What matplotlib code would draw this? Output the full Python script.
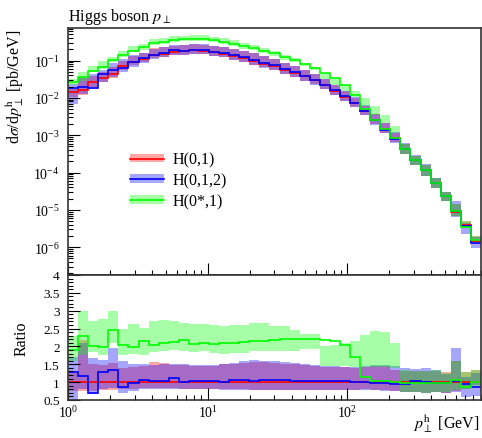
import numpy as np
import matplotlib
matplotlib.use('Agg')
import matplotlib.pyplot as plt
from matplotlib.patches import Patch
from matplotlib.lines import Line2D
from matplotlib.ticker import LogLocator, MultipleLocator, NullFormatter

plt.rcParams['font.family'] = ['Liberation Serif', 'DejaVu Serif']
plt.rcParams['mathtext.fontset'] = 'stix'

# ---------------- data ----------------
bin_edges = np.geomspace(1.0, 906.0, 42)

# H(0,1) central values [pb/GeV]
red = [0.0140, 0.0162, 0.0260, 0.0339, 0.0427, 0.0705, 0.0918, 0.1086, 0.1406, 0.151,
       0.1667, 0.1758, 0.1858, 0.184, 0.168, 0.1538, 0.1324, 0.1148, 0.0989, 0.0828,
       0.0711, 0.0557, 0.0474, 0.0374, 0.0294, 0.0218, 0.01567, 0.01081, 0.00724, 0.00433,
       0.00251, 0.001466, 0.000841, 0.000439, 0.000219, 0.000119, 5.35e-5, 2.40e-5, 9.04e-6, 3.98e-6,
       1.51e-6]

# ratios to H(0,1)
blue_ratio = [1.28, 1.18, 0.70, 1.29, 1.34, 0.87, 0.97, 1.07, 1.02, 1.04,
              1.13, 1.01, 1.04, 1.02, 1.02, 1.01, 1.07, 1.06, 1.04, 1.05,
              1.05, 1.05, 1.04, 1.04, 1.03, 1.02, 1.02, 1.02, 1.00, 1.00,
              0.99, 0.97, 0.95, 0.95, 1.02, 1.01, 0.99, 0.97, 1.02, 0.95,
              0.86]
green_ratio = [1.90, 2.30, 2.02, 1.98, 2.45, 2.05, 1.98, 2.16, 2.05, 2.10,
               2.13, 2.19, 2.07, 2.09, 2.08, 2.09, 2.11, 2.12, 2.14, 2.14,
               2.18, 2.20, 2.21, 2.21, 2.21, 2.18, 2.14, 2.05, 1.70, 1.155,
               1.04, 1.02, 1.00, 0.98, 0.98, 0.99, 0.99, 0.97, 1.06, 0.87,
               1.01]

# uncertainty bands, as ratio to H(0,1) central value
red_lo = [0.75, 0.75, 0.76, 0.78, 0.78, 0.80, 0.82, 0.84, 0.84, 0.84,
          0.83, 0.82, 0.82, 0.82, 0.81, 0.80, 0.80, 0.80, 0.79, 0.79,
          0.79, 0.79, 0.78, 0.78, 0.78, 0.78, 0.78, 0.78, 0.79, 0.80,
          0.78, 0.78, 0.76, 0.72, 0.72, 0.70, 0.72, 0.70, 0.76, 0.80,
          0.92]
red_hi = [1.25, 2.17, 1.50, 1.48, 1.55, 1.40, 1.42, 1.45, 1.57, 1.55,
          1.48, 1.48, 1.46, 1.44, 1.46, 1.50, 1.50, 1.53, 1.57, 1.56,
          1.53, 1.52, 1.50, 1.48, 1.46, 1.43, 1.42, 1.42, 1.40, 1.43,
          1.46, 1.46, 1.34, 1.30, 1.30, 1.30, 1.32, 1.28, 1.60, 1.28,
          1.34]
blue_lo = [0.50, 0.80, 0.68, 0.80, 0.85, 0.70, 0.74, 0.80, 0.80, 0.81,
           0.82, 0.80, 0.80, 0.80, 0.80, 0.79, 0.79, 0.79, 0.78, 0.78,
           0.78, 0.78, 0.78, 0.78, 0.77, 0.77, 0.77, 0.77, 0.78, 0.78,
           0.77, 0.76, 0.74, 0.72, 0.72, 0.69, 0.72, 0.70, 0.72, 0.58,
           0.62]
blue_hi = [1.70, 2.10, 1.68, 1.62, 1.95, 1.58, 1.52, 1.50, 1.48, 1.50,
           1.52, 1.50, 1.49, 1.48, 1.49, 1.52, 1.53, 1.58, 1.62, 1.60,
           1.58, 1.56, 1.53, 1.50, 1.48, 1.45, 1.44, 1.43, 1.43, 1.46,
           1.48, 1.47, 1.46, 1.40, 1.37, 1.40, 1.34, 1.24, 1.96, 1.14,
           1.25]
green_lo = [1.60, 1.75, 1.85, 1.75, 2.10, 1.75, 1.80, 1.75, 1.85, 1.87,
            1.90, 1.88, 1.85, 1.86, 1.82, 1.80, 1.82, 1.82, 1.88, 1.88,
            1.88, 1.88, 1.88, 1.92, 1.92, 1.45, 1.45, 1.45, 1.42, 1.42,
            1.42, 1.42, 1.40, 0.72, 0.72, 0.70, 0.72, 0.72, 0.78, 0.82,
            0.90]
green_hi = [2.30, 3.00, 2.72, 2.78, 3.00, 2.50, 2.62, 2.52, 2.70, 2.73,
            2.72, 2.66, 2.63, 2.63, 2.60, 2.58, 2.60, 2.60, 2.65, 2.65,
            2.58, 2.58, 2.45, 2.35, 2.35, 2.00, 2.05, 2.10, 2.14, 2.33,
            2.44, 2.40, 2.09, 1.34, 1.30, 1.30, 1.35, 1.25, 1.60, 1.28,
            1.34]

ratio_ticks = [0.5, 1, 1.5, 2, 2.5, 3, 3.5, 4]
ratio_ticklabels = ['0.5', '1', '1.5', '2', '2.5', '3', '3.5', '4']

labels = ['H(0,1)', 'H(0,1,2)', 'H(0*,1)']
colors = ['#ff0000', '#0000ff', '#00ff00']

# ---------------- figure ----------------
ref = np.array(red)
ratios = [np.ones_like(ref), np.array(blue_ratio), np.array(green_ratio)]
los = [np.array(red_lo), np.array(blue_lo), np.array(green_lo)]
his = [np.array(red_hi), np.array(blue_hi), np.array(green_hi)]

fig = plt.figure(figsize=(4.82, 4.39), dpi=100)
L, R = 68 / 482, 481 / 482
ax = fig.add_axes([L, 1 - 276 / 439, R - L, (276 - 29) / 439])
axr = fig.add_axes([L, 1 - 401 / 439, R - L, (401 - 276) / 439])

alpha = 0.35
lw = 1.2
for c, r, lo, hi in zip(colors, ratios, los, his):
    ax.stairs(ref * hi, bin_edges, baseline=ref * lo, fill=True, color=c, alpha=alpha, lw=0)
    axr.stairs(hi, bin_edges, baseline=lo, fill=True, color=c, alpha=alpha, lw=0)
for c, r in zip(colors, ratios):
    ax.stairs(ref * r, bin_edges, color=c, lw=lw, baseline=None)
    axr.stairs(r, bin_edges, color=c, lw=lw, baseline=None)

for a in (ax, axr):
    a.set_xscale('log')
    a.set_xlim(bin_edges[0], bin_edges[-1])
    for s in a.spines.values():
        s.set_linewidth(1.2)
        s.set_color('#333333')
    a.tick_params(which='both', direction='in', top=False, right=False, width=0.8, color='black')
    a.tick_params(which='major', length=8.5)
    a.tick_params(which='minor', length=3.8)
    a.tick_params(axis='y', which='major', pad=6, labelsize=10)
    a.tick_params(axis='x', which='major', pad=3, labelsize=10)

ax.set_yscale('log')
ax.set_ylim(10 ** -6.743, 10 ** -0.129)
ax.yaxis.set_major_locator(LogLocator(base=10, numticks=20))
ax.yaxis.set_minor_locator(LogLocator(base=10, subs=np.arange(2, 10), numticks=20))
ax.yaxis.set_minor_formatter(NullFormatter())
ax.tick_params(axis='x', which='both', labelbottom=False)

axr.set_ylim(0.5, 4.0)
axr.set_yticks(ratio_ticks)
axr.set_yticklabels(ratio_ticklabels)
axr.yaxis.set_minor_locator(MultipleLocator(0.1))
axr.tick_params(axis='y', which='major', labelsize=9.5)

# legend
handles = [(Patch(facecolor=c, alpha=alpha, lw=0), Line2D([], [], color=c, lw=lw)) for c in colors]
ax.legend(handles, labels, loc='upper left', bbox_to_anchor=(0.150, 0.50), frameon=False,
          fontsize=11.5, handlelength=2.15, handleheight=0.45, handletextpad=0.55,
          labelspacing=0.3, borderpad=0, borderaxespad=0)

fig.text(L, 1 - 7 / 439, r'Higgs boson $p_\perp$', ha='left', va='top', fontsize=11.5)
fig.text(15 / 482, 1 - 30 / 439, r'd$\sigma$/d$p_\perp^{\rm h}$ [pb/GeV]', rotation=90,
         ha='center', va='top', fontsize=11.5)
fig.text(22 / 482, 1 - 339 / 439, 'Ratio', rotation=90, ha='center', va='center', fontsize=11.5)
fig.text(480 / 482, 1 - 424 / 439, r'$p_\perp^{\rm h}$ [GeV]', ha='right', va='center', fontsize=11.5)

fig.savefig('out.png', dpi=100)
